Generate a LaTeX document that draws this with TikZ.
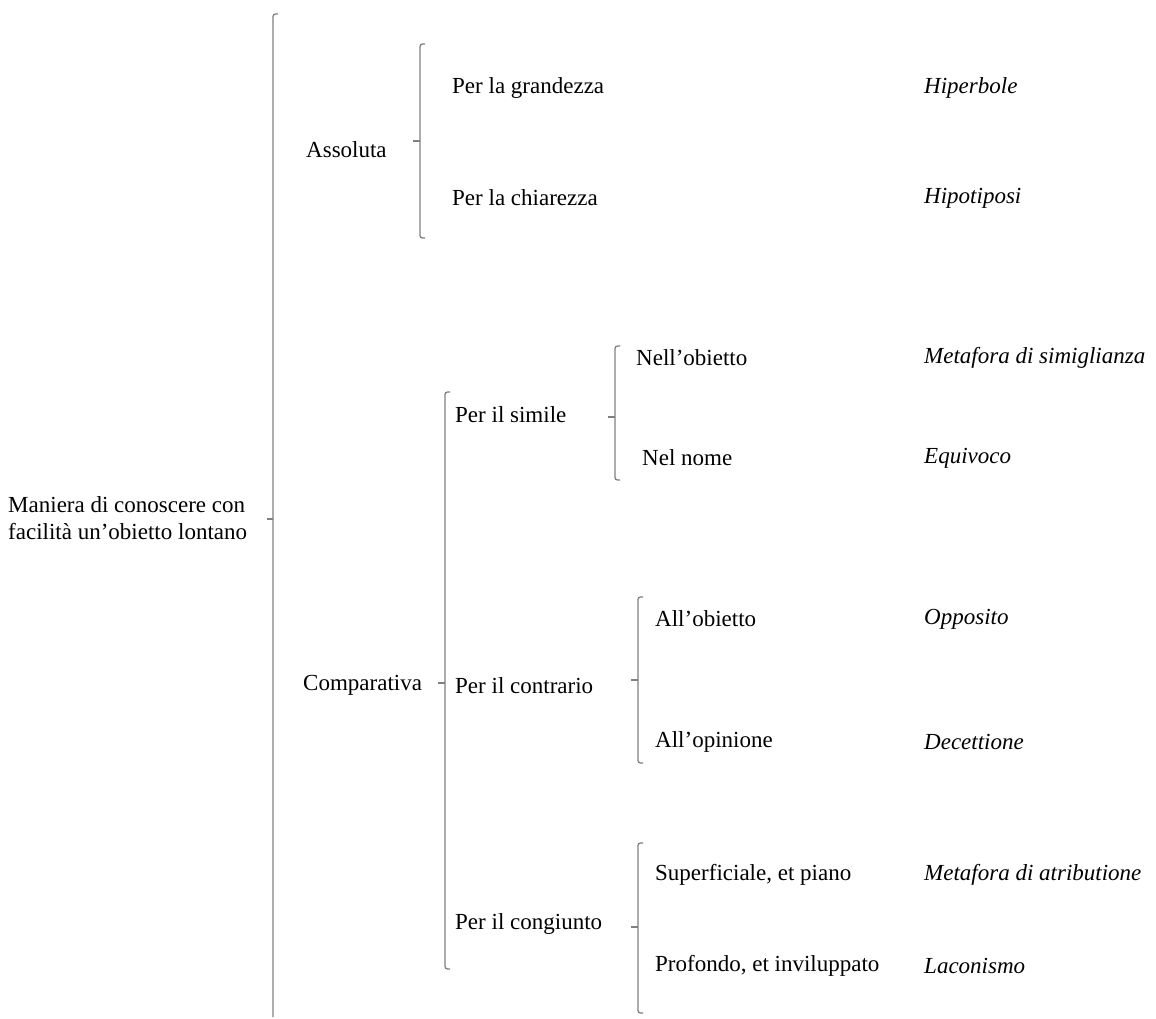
\documentclass[tikz,border=0pt]{standalone}
\usepackage{fontspec}
\setmainfont{Liberation Serif}
\begin{document}
\begin{tikzpicture}[x=1pt,y=-1pt,
  lbl/.style={anchor=west,inner sep=0pt,font=\fontsize{23}{27}\selectfont},
  fig/.style={lbl,font=\fontsize{23}{27}\selectfont\itshape},
  brace/.style={draw=black!50,line width=1.3pt,rounded corners=2.5pt},
  tick/.style={draw=black!50,line width=1.3pt}]
\useasboundingbox (0,0) rectangle (1156,1019);

% labels, level by level
\node[lbl,align=left] (root) at (8,518) {Maniera di conoscere con\\facilità un’obietto lontano};
\node[lbl] (ass) at (306,150) {Assoluta};
\node[lbl] (comp) at (303,685) {Comparativa};

\node[lbl] (grand) at (452,88) {Per la grandezza};
\node[lbl] (chiar) at (452,198) {Per la chiarezza};
\node[fig] (hiper) at (924,88) {Hiperbole};
\node[fig] (hipot) at (924,198) {Hipotiposi};

\node[lbl] (simile) at (455,415) {Per il simile};
\node[lbl] (contr) at (455,686) {Per il contrario};
\node[lbl] (cong) at (455,924) {Per il congiunto};

\node[lbl] (nellob) at (636,358) {Nell’obietto};
\node[lbl] (nelnome) at (642,458) {Nel nome};
\node[fig] (metsim) at (924,358) {Metafora di simiglianza};
\node[fig] (equiv) at (924,458) {Equivoco};

\node[lbl] (allob) at (655,619) {All’obietto};
\node[lbl] (allop) at (655,742) {All’opinione};
\node[fig] (oppos) at (924,619) {Opposito};
\node[fig] (decet) at (924,742) {Decettione};

\node[lbl] (superf) at (655,875) {Superficiale, et piano};
\node[lbl] (profon) at (655,966) {Profondo, et inviluppato};
\node[fig] (metatr) at (924,875) {Metafora di atributione};
\node[fig] (lacon) at (924,966) {Laconismo};

% brace anchor points: top, bottom and middle tick of each bracket
\coordinate (b0t) at (273,14);   \coordinate (b0b) at (273,1017); \coordinate (b0m) at (273,519);
\coordinate (b1t) at (420,44);   \coordinate (b1b) at (420,238);  \coordinate (b1m) at (420,141);
\coordinate (b2t) at (445,392);  \coordinate (b2b) at (445,969);  \coordinate (b2m) at (445,683);
\coordinate (b3t) at (615,346);  \coordinate (b3b) at (615,480);  \coordinate (b3m) at (615,417);
\coordinate (b4t) at (638,597);  \coordinate (b4b) at (638,763);  \coordinate (b4m) at (638,680);
\coordinate (b5t) at (638,843);  \coordinate (b5b) at (638,1013); \coordinate (b5m) at (638,927);

% root bracket runs off the bottom edge
\draw[brace] ([xshift=5pt]b0t) -- (b0t) -- (b0b);
\draw[tick] ([xshift=-6pt]b0m) -- (b0m);

\foreach \b in {b1,b2,b3,b4,b5}{
  \draw[brace] ([xshift=5pt]\b t) -- (\b t) -- (\b b) -- ([xshift=5pt]\b b);
  \draw[tick] ([xshift=-7pt]\b m) -- (\b m);
}
\end{tikzpicture}
\end{document}
